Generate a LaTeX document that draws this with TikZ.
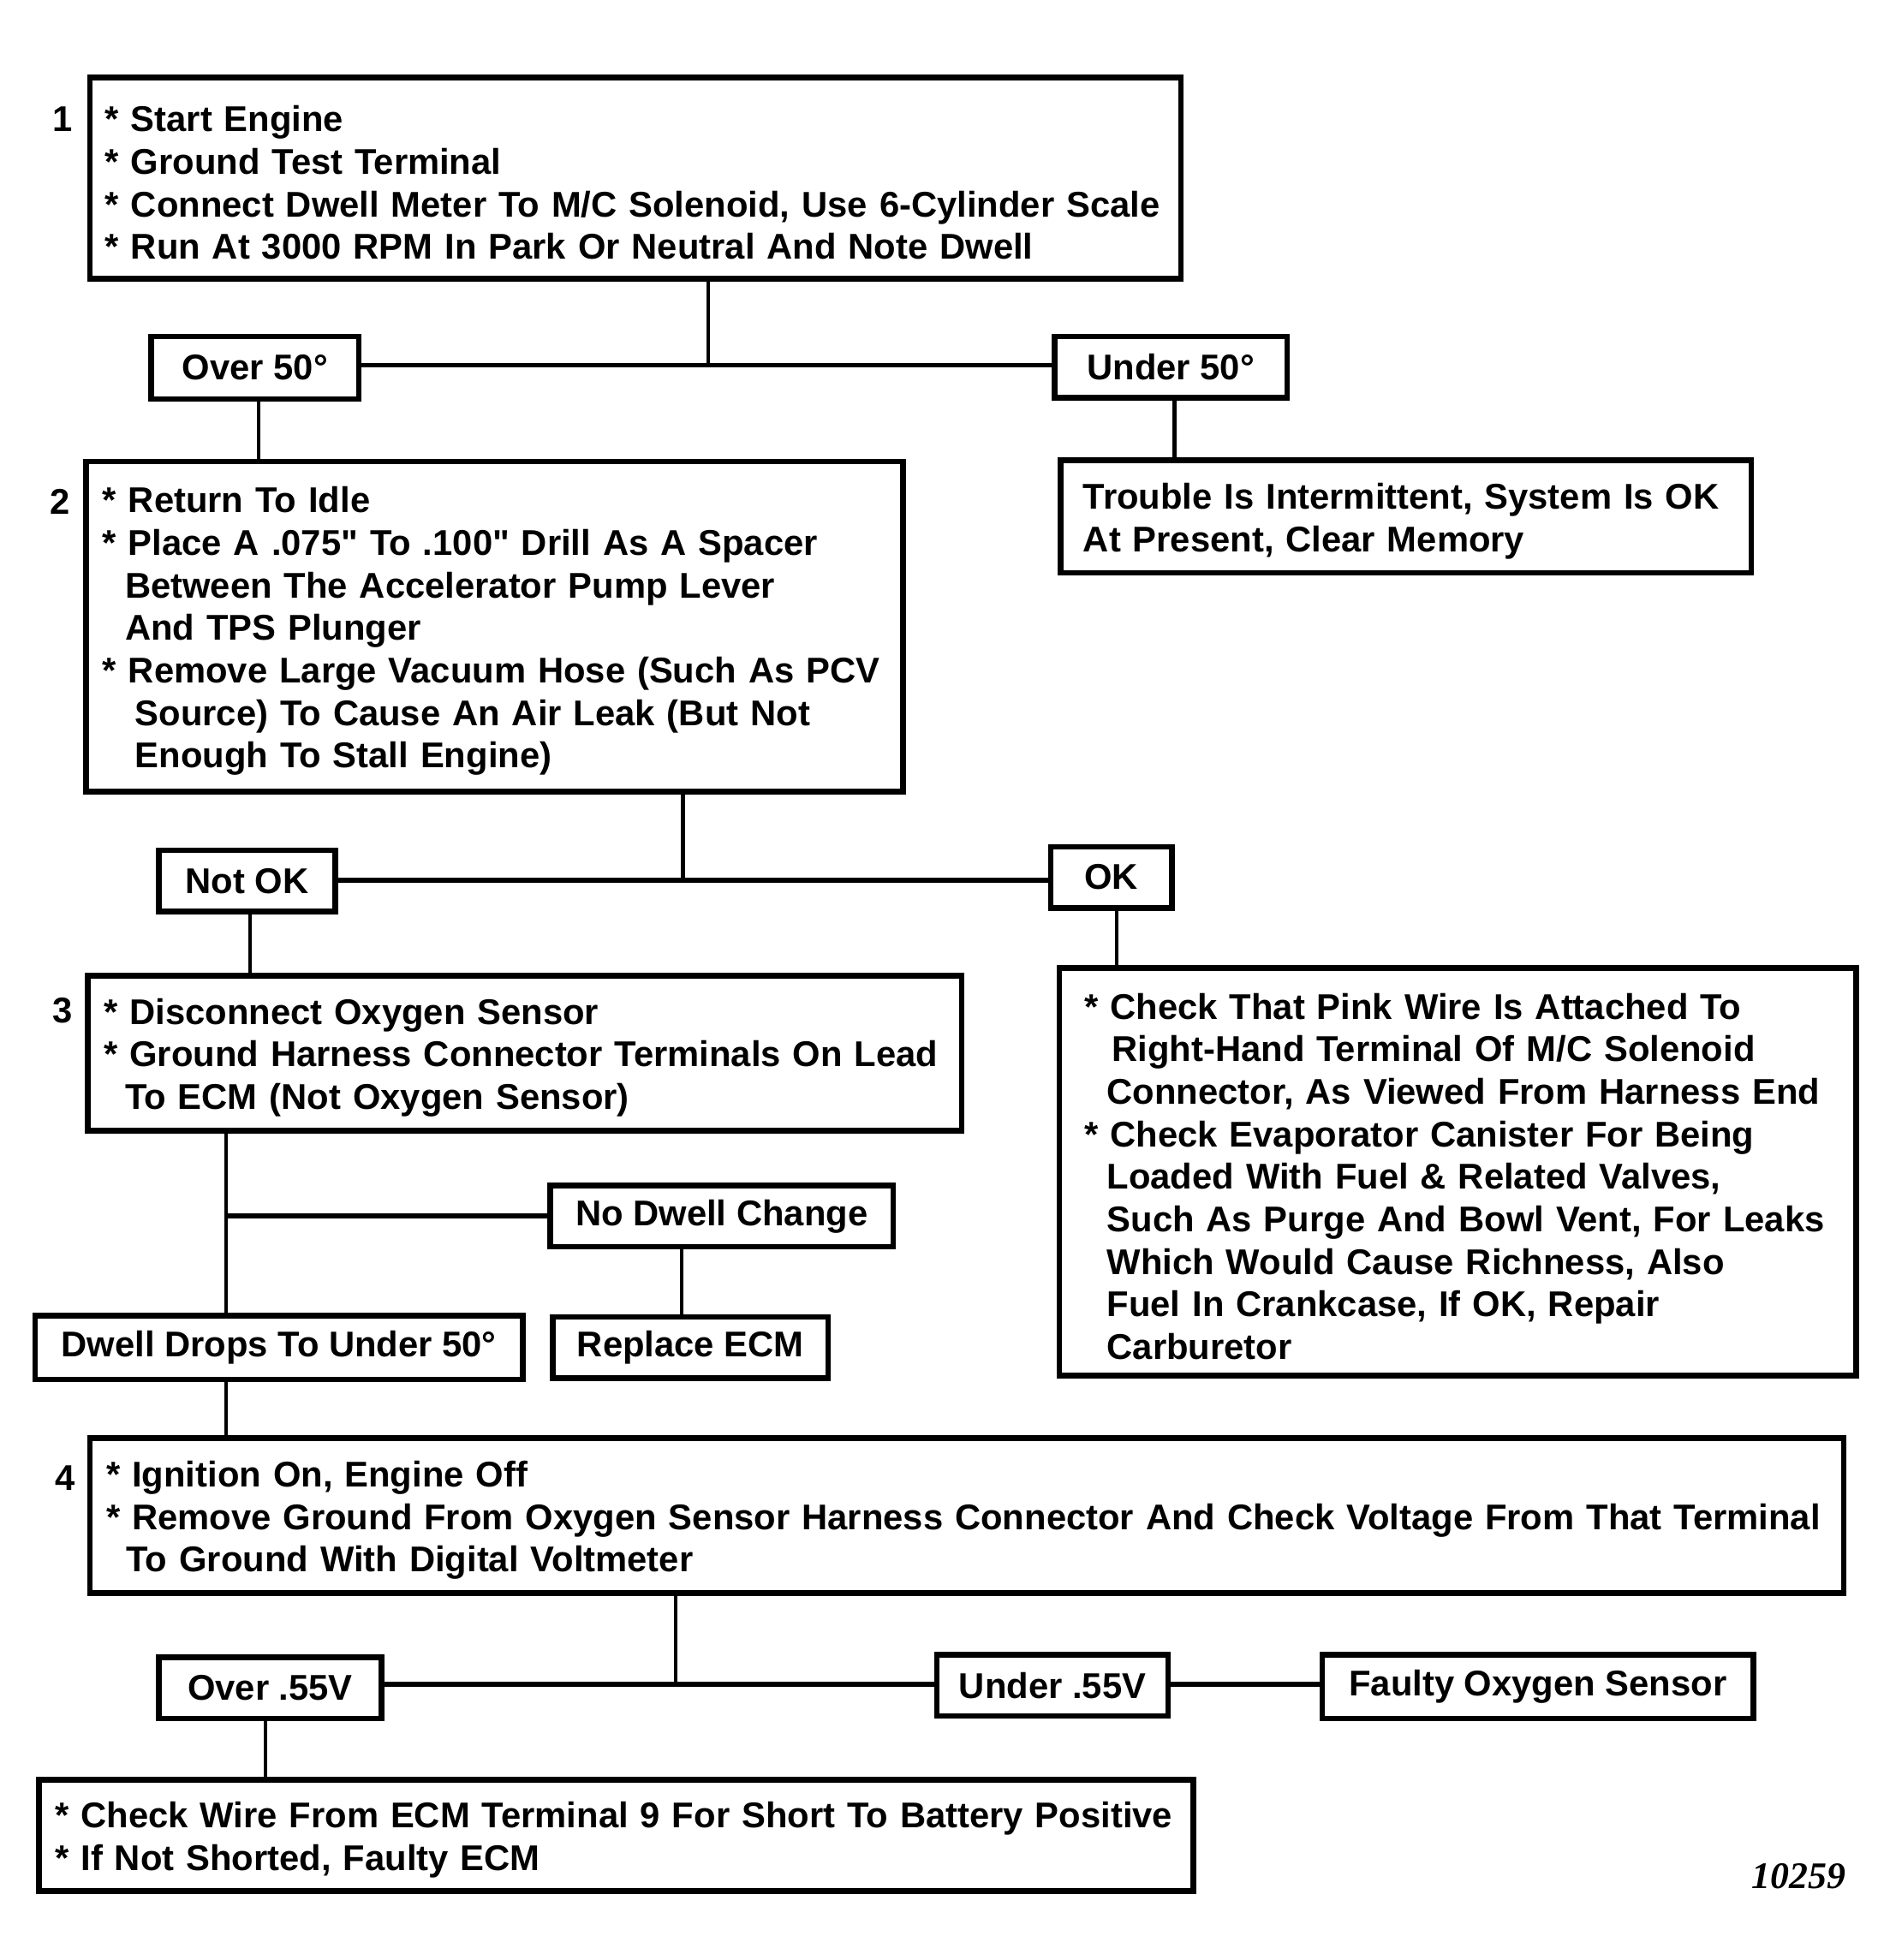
\documentclass[tikz,border=0pt]{standalone}
\usepackage{fontspec}
\newfontfamily\arialf{Liberation Sans}
\newfontfamily\numfont{Liberation Serif}
\newcommand\topstrut{\rule{0pt}{28pt}}
\begin{document}
\begin{tikzpicture}[x=1pt,y=-1pt,
  txt/.style={font=\arialf\fontsize{28.6}{34}\selectfont\bfseries},
  bigbox/.style={txt,draw,line width=4.5pt,rectangle,inner ysep=0pt,align=left},
  tag/.style={txt,draw,line width=4.5pt,rectangle,inner sep=0pt},
  vline/.style={line width=2.8pt},
  hline/.style={line width=4pt},
  steplbl/.style={txt,inner sep=0pt}]
\useasboundingbox[fill=white] (0,0) rectangle (1511,1567.2);

% step 1
\node[bigbox,inner xsep=12pt,text width=848pt,minimum height=161pt] (b1) at (508,142.5)
 {\mbox{\topstrut* Start Engine}\\{}
  \mbox{* Ground Test Terminal}\\{}
  \mbox{* Connect Dwell Meter To M/C Solenoid, Use 6-Cylinder Scale}\\{}
  \mbox{* Run At 3000 RPM In Park Or Neutral And Note Dwell}};
\node[steplbl] (n1) at (50,95) {1};

\node[tag,minimum width=166pt,minimum height=50pt] (over50) at (204,294) {Over 50°};
\node[tag,minimum width=186pt,minimum height=49pt] (under50) at (936,293.5) {Under 50°};

\node[bigbox,inner xsep=18pt,text width=516pt,minimum height=90pt] (trouble) at (1124,413)
 {\mbox{\topstrut Trouble Is Intermittent, System Is OK}\\{}
  \mbox{At Present, Clear Memory}};

% step 2
\node[bigbox,inner xsep=13pt,text width=627pt,minimum height=264pt] (b2) at (395.5,501)
 {\mbox{\topstrut* Return To Idle}\\{}
  \mbox{* Place A .075" To .100" Drill As A Spacer}\\{}
  \mbox{\hspace*{18pt}Between The Accelerator Pump Lever}\\{}
  \mbox{\hspace*{18pt}And TPS Plunger}\\{}
  \mbox{* Remove Large Vacuum Hose (Such As PCV}\\{}
  \mbox{\hspace*{26pt}Source) To Cause An Air Leak (But Not}\\{}
  \mbox{\hspace*{26pt}Enough To Stall Engine)}};
\node[steplbl] (n2) at (48,401) {2};

\node[tag,minimum width=141pt,minimum height=49pt] (notok) at (197.5,704.5) {Not OK};
\node[tag,minimum width=97pt,minimum height=49pt] (ok) at (888.5,701.5) {OK};

% step 3
\node[bigbox,inner xsep=13pt,text width=673pt,minimum height=124pt] (b3) at (419.5,842)
 {\mbox{\topstrut* Disconnect Oxygen Sensor}\\{}
  \mbox{* Ground Harness Connector Terminals On Lead}\\{}
  \mbox{\hspace*{17pt}To ECM (Not Oxygen Sensor)}};
\node[steplbl] (n3) at (50,808) {3};

\node[bigbox,inner xsep=20pt,text width=597pt,minimum height=326pt] (okbox) at (1165.5,937)
 {\mbox{\topstrut* Check That Pink Wire Is Attached To}\\{}
  \mbox{\hspace*{22pt}Right-Hand Terminal Of M/C Solenoid}\\{}
  \mbox{\hspace*{18pt}Connector, As Viewed From Harness End}\\{}
  \mbox{* Check Evaporator Canister For Being}\\{}
  \mbox{\hspace*{18pt}Loaded With Fuel \& Related Valves,}\\{}
  \mbox{\hspace*{18pt}Such As Purge And Bowl Vent, For Leaks}\\{}
  \mbox{\hspace*{18pt}Which Would Cause Richness, Also}\\{}
  \mbox{\hspace*{18pt}Fuel In Crankcase, If OK, Repair}\\{}
  \mbox{\hspace*{18pt}Carburetor}};

\node[tag,minimum width=274pt,minimum height=49pt] (nodwell) at (577,972.5) {No Dwell Change};
\node[tag,minimum width=220pt,minimum height=49pt] (replace) at (552,1077.5) {Replace ECM};
\node[tag,minimum width=390pt,minimum height=51pt] (drops) at (223,1077.5) {Dwell Drops To Under 50°};

% step 4
\node[bigbox,inner xsep=13pt,text width=1376pt,minimum height=124pt] (b4) at (773,1212)
 {\mbox{\topstrut* Ignition On, Engine Off}\\{}
  \mbox{* Remove Ground From Oxygen Sensor Harness Connector And Check Voltage From That Terminal}\\{}
  \mbox{\hspace*{16pt}To Ground With Digital Voltmeter}};
\node[steplbl] (n4) at (52,1182) {4};

\node[tag,minimum width=178pt,minimum height=49pt] (over55) at (216,1349.5) {Over .55V};
\node[tag,minimum width=185pt,minimum height=49pt] (under55) at (841.5,1347.5) {Under .55V};
\node[tag,minimum width=345pt,minimum height=51pt] (faulty) at (1229.5,1348.5) {Faulty Oxygen Sensor};

\node[bigbox,inner xsep=13pt,text width=897pt,minimum height=89pt] (final) at (492.5,1467.5)
 {\mbox{\topstrut* Check Wire From ECM Terminal 9 For Short To Battery Positive}\\{}
  \mbox{* If Not Shorted, Faulty ECM}};

\node[font=\numfont\fontsize{30}{34}\selectfont\bfseries\itshape,inner sep=0pt] (fig) at (1438,1500) {10259};

% connectors
\coordinate (j1) at (566,292);
\coordinate (j2) at (546,704);
\coordinate (j3) at (181,972);
\coordinate (j4) at (545,1000);
\coordinate (j5) at (540,1347);
\coordinate (j6) at (207,340);
\coordinate (j7) at (939,340);
\coordinate (j8) at (200,750);
\coordinate (j9) at (893,750);
\coordinate (j10) at (212,1400);

\draw[vline] (j1 |- b1.south) -- (j1);
\draw[hline] (over50.east |- j1) -- (j1 -| under50.west);
\draw[vline] (j6 |- over50.south) -- (j6 |- b2.north);
\draw[vline] (j7 |- under50.south) -- (j7 |- trouble.north);

\draw[vline] (j2 |- b2.south) -- (j2);
\draw[hline] (notok.east |- j2) -- (j2 -| ok.west);
\draw[vline] (j8 |- notok.south) -- (j8 |- b3.north);
\draw[vline] (j9 |- ok.south) -- (j9 |- okbox.north);

\draw[vline] (j3 |- b3.south) -- (j3 |- drops.north);
\draw[hline] (j3) -- (j3 -| nodwell.west);
\draw[vline] (j4 |- nodwell.south) -- (j4 |- replace.north);
\draw[vline] (j3 |- drops.south) -- (j3 |- b4.north);

\draw[vline] (j5 |- b4.south) -- (j5);
\draw[hline] (over55.east |- j5) -- (j5 -| under55.west);
\draw[hline] (under55.east |- j5) -- (j5 -| faulty.west);
\draw[vline] (j10 |- over55.south) -- (j10 |- final.north);
\end{tikzpicture}
\end{document}
